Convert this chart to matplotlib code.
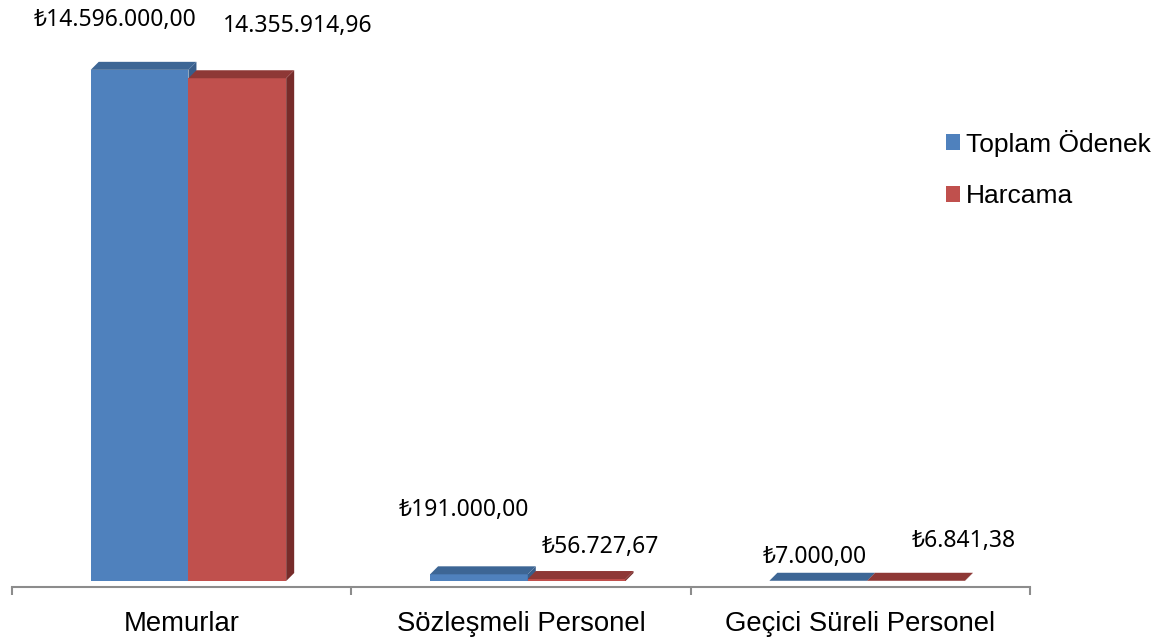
import matplotlib.pyplot as plt
from matplotlib.patches import Polygon, Patch

# Data
categories = ['Memurlar', 'Sözleşmeli Personel', 'Geçici Süreli Personel']
series_names = ['Toplam Ödenek', 'Harcama']
toplam_odenek = [14596000.00, 191000.00, 7000.00]
harcama = [14355914.96, 56727.67, 6841.38]
odenek_labels = ['₺14.596.000,00', '₺191.000,00', '₺7.000,00']
harcama_labels = ['14.355.914,96', '₺56.727,67', '₺6.841,38']

# colours: front, top, side
blue = ('#4F81BD', '#3D6695', '#385D8A')
red = ('#C0504D', '#8E3836', '#772C2A')

# label offsets in pixels (dx, dy) from the front top centre of each bar
odenek_off = [(-25, 50), (-15, 64), (-4, 24)]
harcama_off = [(60, 52), (24, 32), (48, 40)]

W, H = 1160, 641
fig = plt.figure(figsize=(W / 100, H / 100), dpi=100)
ax = fig.add_axes([12 / W, (H - 587) / H, 1018 / W, 587 / H])

px_x = 3.0 / 1018          # category units per pixel
ymin, ymax = -171000, 16.59e6
px_y = (ymax - ymin) / 587  # value units per pixel
ax.set_xlim(-0.5, 2.5)
ax.set_ylim(ymin, ymax)

bw = 0.288
offsets = [-0.124, 0.164]
ddx, ddy = 8 * px_x, 8 * px_y


def draw_bar(x, h, cols):
    x0, x1 = x - bw / 2, x + bw / 2
    ax.bar(x, h, width=bw, color=cols[0], linewidth=0, zorder=2)
    side = Polygon([(x1, 0), (x1 + ddx, ddy), (x1 + ddx, h + ddy), (x1, h)],
                   closed=True, facecolor=cols[2], linewidth=0, zorder=2)
    top = Polygon([(x0, h), (x1, h), (x1 + ddx, h + ddy), (x0 + ddx, h + ddy)],
                  closed=True, facecolor=cols[1], linewidth=0, zorder=2)
    ax.add_patch(side)
    ax.add_patch(top)


lab_font = dict(family=['Noto Sans', 'DejaVu Sans'], fontsize=16.5, color='black')
for i in range(len(categories)):
    xb = i + offsets[0]
    xr = i + offsets[1]
    draw_bar(xb, toplam_odenek[i], blue)
    draw_bar(xr, harcama[i], red)
    ax.annotate(odenek_labels[i], (xb, toplam_odenek[i]), xytext=odenek_off[i],
                textcoords='offset pixels', ha='center', va='center', **lab_font)
    ax.annotate(harcama_labels[i], (xr, harcama[i]), xytext=harcama_off[i],
                textcoords='offset pixels', ha='center', va='center', **lab_font)

# axes styling
for s in ['left', 'right', 'top']:
    ax.spines[s].set_visible(False)
ax.spines['bottom'].set_color('#8C8C8C')
ax.spines['bottom'].set_linewidth(1.5)
ax.set_yticks([])
ax.set_xticks(range(len(categories)))
ax.set_xticklabels(categories, fontsize=19.8, family='Liberation Sans')
ax.tick_params(axis='x', which='major', length=0, pad=17)
ax.set_xticks([-0.5, 0.5, 1.5, 2.5], minor=True)
ax.tick_params(axis='x', which='minor', length=6, width=1.5, color='#8C8C8C', direction='out')
ax.patch.set_visible(False)

handles = [Patch(facecolor=blue[0]), Patch(facecolor=red[0])]
fig.legend(handles, series_names, loc='center left', bbox_to_anchor=(922 / W, 1 - 169 / H),
           frameon=False, prop={'family': 'Liberation Sans', 'size': 19},
           handlelength=0.55, handleheight=0.55, handletextpad=0.2, labelspacing=1.05)

fig.savefig('out.png', dpi=100)
